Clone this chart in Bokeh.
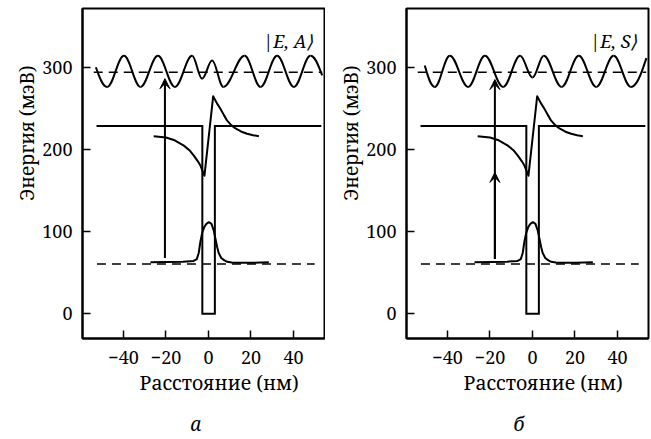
import numpy as np
from bokeh.plotting import figure
from bokeh.layouts import row
from bokeh.models import Range1d, FixedTicker, Arrow, VeeHead, Label, Title, ColumnDataSource
from bokeh.embed import file_html
from bokeh.resources import INLINE

# ---------------- data ----------------
x_ticks = [-40, -20, 0, 20, 40]
x_tick_labels = ["\u221240", "\u221220", "0", "20", "40"]
y_ticks = [0, 100, 200, 300]
y_tick_labels = ["0", "100", "200", "300"]

well_x = [-52.7, -2.9, -2.9, 3.0, 3.0, 53.1]
well_y = [228.4, 228.4, 0.0, 0.0, 228.4, 228.4]

bend_x = [-25.8, -20.0, -16.3, -11.6, -9.0, -6.9, -5.0, -3.8, -1.9, 2.2, 4.0, 5.6, 7.2, 8.8, 10.7, 12.7, 15.5, 18.2, 21.0, 23.7]
bend_y = [216.0, 214.5, 211.5, 204.6, 199.0, 192.5, 185.5, 180.4, 168.0, 264.6, 256.0, 249.4, 242.0, 235.0, 229.5, 225.5, 221.5, 219.0, 217.3, 216.0]

ground_x = [-27.3, -20.0, -12.0, -7.0, -5.5, -4.6, -3.8, -3.0, -2.0, -1.0, 0.2, 1.4, 2.5, 3.3, 4.1, 4.8, 6.0, 7.5, 8.8, 11.0, 15.0, 20.0, 28.4]
ground_y = [62.6, 63.0, 63.5, 64.3, 66.5, 74.0, 88.0, 98.0, 105.5, 109.5, 111.5, 109.5, 101.0, 91.0, 81.0, 74.0, 68.0, 65.0, 63.3, 62.5, 62.0, 62.0, 62.6]

ground_level = 60.5
ground_level_x = [-52.5, 50.0]
excited_level = 294.0
excited_level_x = [-54.0, 53.5]

wave_a_x = [-53.0, -47.7, -39.8, -32.0, -23.8, -15.8, -7.7, -3.0, 1.7, 7.0, 17.0, 24.5, 32.3, 40.2, 48.0, 53.5]
wave_a_y = [300.0, 276.0, 314.0, 276.0, 314.0, 276.0, 314.0, 286.0, 308.0, 276.0, 314.0, 276.0, 314.0, 276.0, 314.0, 290.0]

wave_s_x = [-50.7, -46.0, -38.9, -30.3, -22.4, -13.8, -5.8, 0.0, 5.3, 13.7, 21.8, 30.0, 38.2, 46.3, 53.6]
wave_s_y = [302.0, 276.0, 314.0, 276.0, 314.0, 276.0, 314.0, 287.5, 314.0, 276.0, 314.0, 276.0, 314.0, 276.0, 311.0]

arrow_a = dict(x=-20.5, y0=68.0, y1=286.0, mid=None)
arrow_s = dict(x=-17.7, y0=66.7, y1=285.0, mid=172.0)

state_labels = ["|E, A\u27e9", "|E, S\u27e9"]
panel_letters = ["\u0430", "\u0431"]
x_label = "Расстояние (нм)"
y_label = "Энергия (мэВ)"

FONT = "Noto Serif"


def bezier_source(xs, ys, k=0.36):
    x0 = np.array(xs[:-1]); x1 = np.array(xs[1:])
    y0 = np.array(ys[:-1]); y1 = np.array(ys[1:])
    dx = x1 - x0
    cx0 = x0 + k * dx
    cx1 = x1 - k * dx
    cy0 = y0.copy(); cy1 = y1.copy()
    cy0[0] = y0[0] + 0.6 * (y1[0] - y0[0])
    cy1[-1] = y1[-1] - 0.6 * (y1[-1] - y0[-1])
    return ColumnDataSource(dict(x0=x0, y0=y0, x1=x1, y1=y1, cx0=cx0, cy0=cy0, cx1=cx1, cy1=cy1))


def make_panel(wave_x, wave_y, arrow, state_label, letter, letter_offset, border_left, border_right):
    p = figure(frame_width=242, frame_height=330,
               x_range=Range1d(-59.3, 54.6), y_range=Range1d(-30.0, 371.4),
               output_backend="svg", toolbar_location=None,
               min_border_left=border_left, min_border_right=border_right,
               min_border_top=8, min_border_bottom=101)
    p.outline_line_color = "black"
    p.outline_line_width = 2
    p.xgrid.visible = False
    p.ygrid.visible = False

    for ax in (p.xaxis[0], p.yaxis[0]):
        ax.axis_line_width = 2
        ax.axis_line_color = "black"
        ax.major_tick_in = 8
        ax.major_tick_out = 0
        ax.major_tick_line_width = 1.5
        ax.major_tick_line_color = "black"
        ax.minor_tick_line_color = None
        ax.major_label_text_font = FONT
        ax.major_label_text_font_size = "18px"
        ax.major_label_text_color = "black"

    p.xaxis.ticker = FixedTicker(ticks=x_ticks)
    p.xaxis.major_label_overrides = dict(zip(x_ticks, x_tick_labels))
    p.xaxis.major_label_standoff = 12

    p.yaxis.ticker = FixedTicker(ticks=y_ticks)
    p.yaxis.major_label_overrides = dict(zip(y_ticks, y_tick_labels))
    p.yaxis.major_label_standoff = 10

    # axis titles, placed off-centre as in the original
    p.add_layout(Title(text=y_label, align="right", offset=57, text_font=FONT,
                       text_font_style="normal", text_font_size="19px", text_color="black",
                       standoff=0), "left")
    p.add_layout(Title(text=x_label, align="left", offset=57, text_font=FONT,
                       text_font_style="normal", text_font_size="19.5px", text_color="black",
                       standoff=0), "below")
    p.add_layout(Title(text=letter, align="left", offset=letter_offset, text_font=FONT,
                       text_font_style="italic", text_font_size="19px", text_color="black",
                       standoff=26), "below")

    p.line(ground_level_x, [ground_level] * 2, line_color="black", line_width=1.5, line_dash="9 6")
    p.line(excited_level_x, [excited_level] * 2, line_color="black", line_width=1.5, line_dash="9 6")
    p.line(well_x, well_y, line_color="black", line_width=2, line_join="miter")
    p.line(bend_x, bend_y, line_color="black", line_width=2, line_join="round")
    p.line(ground_x, ground_y, line_color="black", line_width=2, line_join="round")
    p.bezier(x0="x0", y0="y0", x1="x1", y1="y1", cx0="cx0", cy0="cy0", cx1="cx1", cy1="cy1",
             source=bezier_source(wave_x, wave_y), line_color="black", line_width=2)

    p.add_layout(Arrow(end=VeeHead(size=10, fill_color="black", line_color="black", line_width=1),
                       x_start=arrow["x"], y_start=arrow["y0"], x_end=arrow["x"], y_end=arrow["y1"],
                       line_color="black", line_width=2))
    if arrow["mid"] is not None:
        p.add_layout(Arrow(end=VeeHead(size=10, fill_color="black", line_color="black", line_width=1),
                           x_start=arrow["x"], y_start=arrow["y0"], x_end=arrow["x"], y_end=arrow["mid"],
                           line_color="black", line_width=2))

    p.add_layout(Label(x=49.4, y=332, text=state_label, text_align="right", text_baseline="middle",
                       text_font=FONT, text_font_style="italic", text_font_size="18px", text_color="black"))
    return p


p1 = make_panel(wave_a_x, wave_a_y, arrow_a, state_labels[0], panel_letters[0], 108, 82, 1)
p2 = make_panel(wave_s_x, wave_s_y, arrow_s, state_labels[1], panel_letters[1], 107, 81, 3)

layout = row(p1, p2)
open("out.html", "w").write(file_html(layout, INLINE))
